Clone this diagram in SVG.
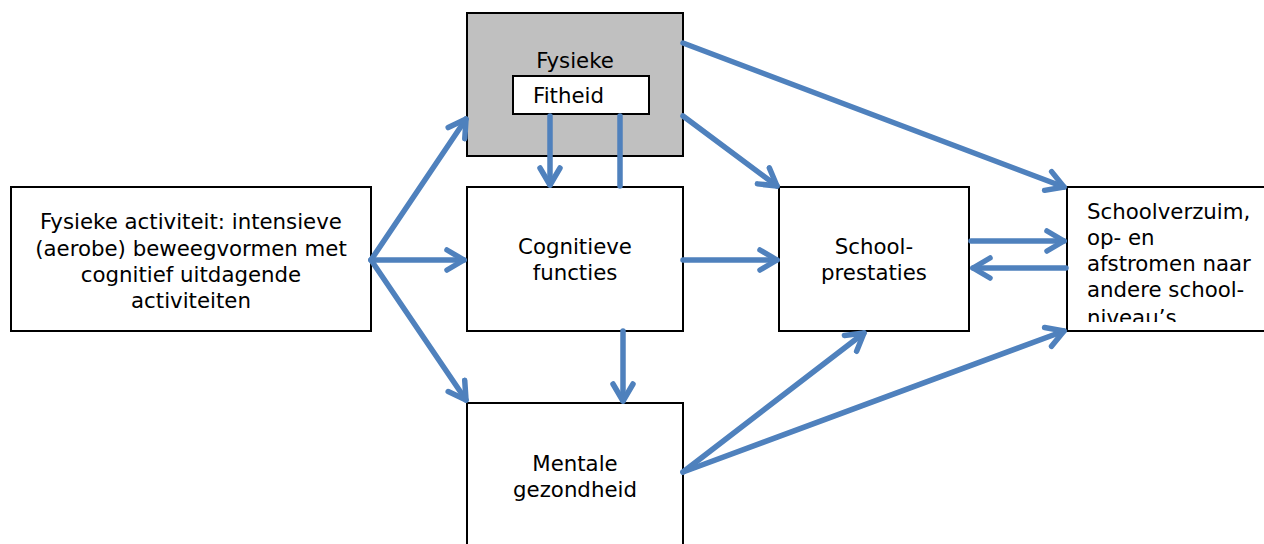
<svg xmlns="http://www.w3.org/2000/svg" width="1264" height="544" viewBox="0 0 1264 544">
<style>
.box{fill:#fff;stroke:#000;stroke-width:2}
.t{font-family:"DejaVu Sans",Verdana,sans-serif;font-size:21.3px;fill:#000}
.c{text-anchor:middle}
.a{stroke:#4f81bd;stroke-width:5.5;fill:none;stroke-linecap:round}
.ah{marker-end:url(#arr)}
</style>
<defs>
<marker id="arr" markerUnits="userSpaceOnUse" markerWidth="40" markerHeight="40" viewBox="-20 -20 40 40" refX="0" refY="0" orient="auto">
<path d="M-17,-10 L0,0 L-17,10" fill="none" stroke="#4f81bd" stroke-width="5.5" stroke-linecap="round" stroke-linejoin="round"/>
</marker>
<clipPath id="clipSV"><rect x="1067" y="188" width="197" height="134"/></clipPath>
</defs>
<rect width="1264" height="544" fill="#fff"/>
<g id="fysieke-fitheid">
<rect x="467" y="13" width="216" height="143" fill="#c0c0c0" stroke="#000" stroke-width="2"/>
<text class="t c" x="575" y="68">Fysieke</text>
<rect x="513" y="76" width="136" height="38" class="box"/>
<text class="t" x="533" y="103">Fitheid</text>
</g>
<g id="fysieke-activiteit">
<rect x="11" y="187" width="360" height="144" class="box"/>
<text class="t c" x="191" y="229">Fysieke activiteit: intensieve</text>
<text class="t c" x="191" y="256">(aerobe) beweegvormen met</text>
<text class="t c" x="191" y="282">cognitief uitdagende</text>
<text class="t c" x="191" y="308">activiteiten</text>
</g>
<g id="cognitieve-functies">
<rect x="467" y="187" width="216" height="144" class="box"/>
<text class="t c" x="575" y="254">Cognitieve</text>
<text class="t c" x="575" y="280">functies</text>
</g>
<g id="schoolprestaties">
<rect x="779" y="187" width="190" height="144" class="box"/>
<text class="t c" x="874" y="254">School-</text>
<text class="t c" x="874" y="280">prestaties</text>
</g>
<g id="schoolverzuim">
<rect x="1067" y="187" width="200" height="144" class="box"/>
<g clip-path="url(#clipSV)">
<text class="t" x="1087" y="219">Schoolverzuim,</text>
<text class="t" x="1087" y="245">op- en</text>
<text class="t" x="1087" y="271">afstromen naar</text>
<text class="t" x="1087" y="297">andere school-</text>
<text class="t" x="1087" y="325">niveau’s</text>
</g>
</g>
<g id="mentale-gezondheid">
<rect x="467" y="403" width="216" height="150" class="box"/>
<text class="t c" x="575" y="471">Mentale</text>
<text class="t c" x="575" y="497">gezondheid</text>
</g>
<g id="connectors">
<line class="a ah" x1="371" y1="260" x2="466" y2="119"/>
<line class="a ah" x1="371" y1="260" x2="464" y2="260"/>
<line class="a ah" x1="371" y1="260" x2="466" y2="400"/>
<line class="a ah" x1="550" y1="116" x2="550" y2="185"/>
<line class="a" x1="620" y1="116" x2="620" y2="186"/>
<line class="a ah" x1="683" y1="260" x2="777" y2="260"/>
<line class="a ah" x1="683" y1="43" x2="1064" y2="187"/>
<line class="a ah" x1="683" y1="116" x2="777" y2="186"/>
<line class="a ah" x1="623" y1="331" x2="623" y2="401"/>
<line class="a ah" x1="683" y1="472" x2="864" y2="333"/>
<line class="a ah" x1="683" y1="472" x2="1064" y2="331"/>
<line class="a ah" x1="971" y1="241" x2="1064" y2="241"/>
<line class="a ah" x1="1066" y1="268" x2="973" y2="268"/>
</g>
</svg>
